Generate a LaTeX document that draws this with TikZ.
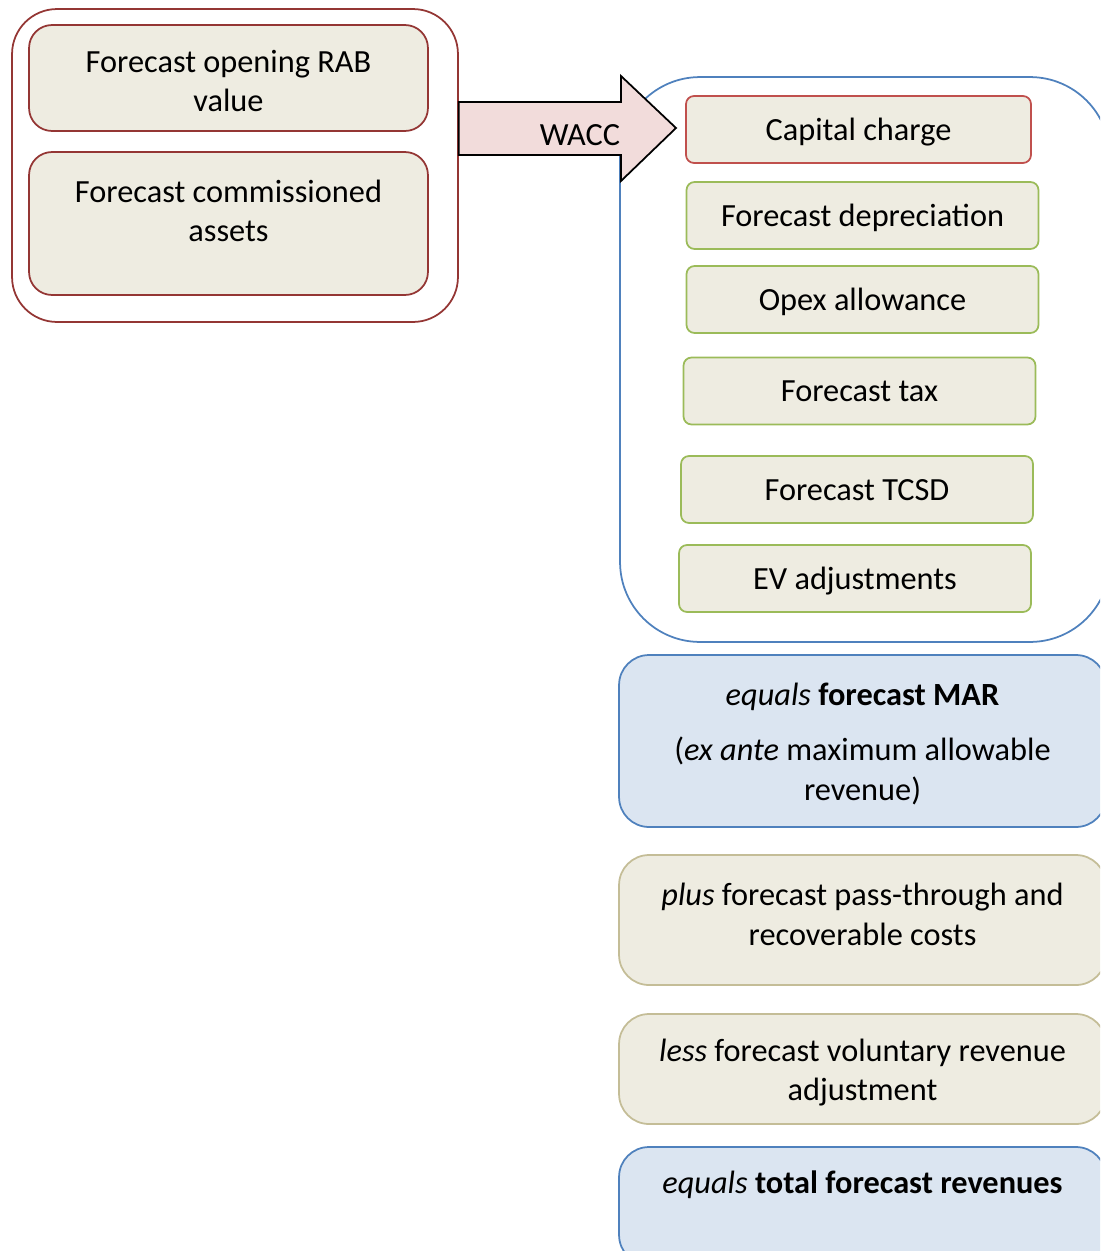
\documentclass[tikz,border=0pt]{standalone}
\usepackage{fontspec}
\setmainfont{Carlito}
\usetikzlibrary{positioning}

\definecolor{boxfill}{HTML}{EEECE1}
\definecolor{marfill}{HTML}{DBE5F1}
\definecolor{rabred}{HTML}{943634}
\definecolor{capred}{HTML}{C0504D}
\definecolor{costgreen}{HTML}{9BBB59}
\definecolor{marblue}{HTML}{4F81BD}
\definecolor{tanline}{HTML}{C4BD97}
\definecolor{waccpink}{HTML}{F2DCDB}

\tikzset{
  inbox/.style={rectangle, rounded corners=0.46cm, draw=rabred, fill=boxfill, line width=1pt, minimum width=7.98cm, align=center, inner sep=0pt},
  costbox/.style={rectangle, rounded corners=0.16cm, draw=costgreen, fill=boxfill, line width=1pt, minimum width=7.04cm, minimum height=1.34cm, align=center, inner sep=0pt, text height=15.2pt, text depth=3pt},
  sumbox/.style={rectangle, rounded corners=0.6cm, line width=1pt, minimum width=9.74cm, align=center, inner sep=0pt},
  txt/.style={align=center, inner sep=0pt}
}

\begin{document}
\begin{tikzpicture}[x=0.02cm, y=-0.02cm, font=\fontsize{18.4}{22.6}\selectfont]
\useasboundingbox (0,0) rectangle (1100,1251);
\clip (0,0) rectangle (1100,1251);

% building blocks on the left
\node (rabgroup) [rectangle, rounded corners=0.9cm, draw=rabred, line width=1pt, minimum width=8.92cm, minimum height=6.26cm] at (235,165.5) {};
\node (rab) [inbox, minimum height=2.12cm] at (228.5,78) {};
\node (rabtext) [txt] at (228.5,81) {Forecast opening RAB\\value};
\node (comm) [inbox, minimum height=2.86cm] at (228.5,223.5) {};
\node (commtext) [txt] at (228.5,211) {Forecast commissioned\\assets};

% building blocks on the right
\node (blocks) [rectangle, rounded corners=1.6cm, draw=marblue, line width=1pt, minimum width=9.8cm, minimum height=11.3cm] at (865,359.5) {};

% WACC arrow
\coordinate (tail) at (rabgroup.east);
\draw[fill=waccpink, line width=1pt, line join=miter] (tail |- 0,102) -- (621,102) -- (621,76) -- (676,128) -- (621,181) -- (621,155) -- (tail |- 0,155) -- cycle;
\node (wacc) [txt] at (580,135) {WACC};

\node (capital) [costbox, draw=capred, minimum width=6.9cm] at (858.5,129.5) {Capital charge};
\node (depn) [costbox] at (862.5,215.5) {Forecast depreciation};
\node (opex) [costbox] at (862.5,299.5) {Opex allowance};
\node (tax) [costbox] at (859.5,391) {Forecast tax};
\node (tcsd) [costbox] at (857,489.5) {Forecast TCSD};
\node (evadj) [costbox] at (855,578.5) {EV adjustments};

% the totals
\node (mar) [sumbox, draw=marblue, fill=marfill, minimum height=3.44cm] at (862.5,741) {};
\node (martext) [txt] at (862.5,744) {\textit{equals} \textbf{forecast MAR}\\[8.5pt](\textit{ex ante} maximum allowable\\revenue)};
\node (passthru) [sumbox, draw=tanline, fill=boxfill, minimum height=2.6cm] at (862.5,920) {};
\node (passtext) [txt] at (862.5,914.5) {\textit{plus} forecast pass-through and\\recoverable costs};
\node (voladj) [sumbox, draw=tanline, fill=boxfill, minimum height=2.2cm] at (862.5,1069) {};
\node (voltext) [txt] at (862.5,1072.5) {\textit{less} forecast voluntary revenue\\adjustment};
\node (total) [sumbox, draw=marblue, fill=marfill, minimum height=2.36cm] at (862.5,1206) {};
\node (totaltext) [txt] at (862.5,1185) {\textit{equals} \textbf{total forecast revenues}};
\end{tikzpicture}
\end{document}
